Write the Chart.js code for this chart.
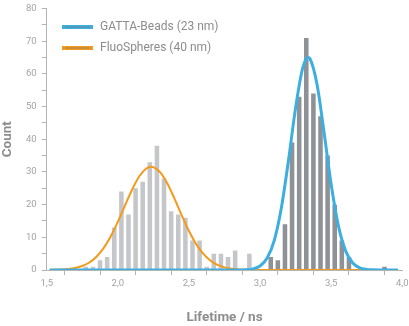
<!DOCTYPE html>
<html>
<head>
<meta charset="utf-8">
<script src="https://cdn.jsdelivr.net/npm/chart.js@4/dist/chart.umd.min.js"></script>
<style>
  html, body { margin: 0; padding: 0; background: #ffffff; }
  #wrap { width: 409px; height: 326px; }
</style>
</head>
<body>
<div id="wrap"><canvas id="c" width="409" height="326"></canvas></div>
<script>
// Histogram bins (bin centres, ns) and counts
const fluoBins   = [1.775, 1.825, 1.875, 1.925, 1.975, 2.025, 2.075, 2.125, 2.175, 2.225, 2.275, 2.325,
                    2.375, 2.425, 2.475, 2.525, 2.575, 2.625, 2.675, 2.725, 2.775, 2.825, 2.875, 2.925];
const fluoCounts = [1, 1, 3, 4, 13, 24, 17, 25, 27, 33, 38, 28,
                    18, 17, 16, 9, 9, 1, 5, 5, 4, 6, 0, 5];

const gattaBins   = [3.025, 3.075, 3.125, 3.175, 3.225, 3.275, 3.325, 3.375, 3.425,
                     3.475, 3.525, 3.575, 3.625, 3.675, 3.725, 3.775, 3.825, 3.875];
const gattaCounts = [0, 4, 3, 14, 39, 53, 71, 54, 47,
                     35, 20, 9, 4, 0, 0, 0, 0, 1];

// Fitted lifetime distributions
const fluoFitX = [1.52, 1.55, 1.60, 1.65, 1.70, 1.75, 1.80, 1.85, 1.90, 1.95, 2.00, 2.05, 2.10, 2.15,
                  2.20, 2.235, 2.25, 2.30, 2.35, 2.40, 2.45, 2.50, 2.55, 2.60, 2.65, 2.70, 2.75, 2.80,
                  2.85, 2.90, 2.95, 3.00, 3.10, 3.30, 3.50, 3.72];
const fluoFitY = [0.03, 0.05, 0.12, 0.28, 0.60, 1.22, 2.30, 4.06, 6.68, 10.26, 14.70, 19.67, 24.55, 28.59,
                  31.07, 31.60, 31.50, 29.80, 26.32, 21.68, 16.65, 11.94, 8.00, 4.99, 2.91, 1.58, 0.80, 0.38,
                  0.17, 0.07, 0.03, 0.01, 0, 0, 0, 0];

const gattaFitX = [1.52, 2.00, 2.50, 2.80, 2.85, 2.90, 2.95, 3.00, 3.05, 3.10, 3.15, 3.20, 3.25, 3.30,
                   3.338, 3.35, 3.40, 3.45, 3.50, 3.55, 3.60, 3.65, 3.70, 3.75, 3.80, 3.85, 3.90, 3.97];
const gattaFitY = [0, 0, 0, 0, 0.02, 0.08, 0.35, 1.23, 3.65, 9.09, 19.06, 33.56, 49.67, 61.82,
                   65.0, 64.68, 56.88, 42.06, 26.13, 13.64, 6.00, 2.21, 0.69, 0.18, 0.04, 0.01, 0, 0];

// Axis ticks
const xTickLabels = [1.5, 2.0, 2.5, 3.0, 3.5, 4.0];
const yTickLabels = [0, 10, 20, 30, 40, 50, 60, 70, 80];

const pairs = (xs, ys) => xs.map((x, i) => ({ x: x, y: ys[i] }));

const AXIS = '#b4b4b4';
const TICK_TEXT = '#a3a3a3';
const TITLE_TEXT = '#8d8d8d';
const BLUE = '#3daee0';
const ORANGE = '#f39a1c';

// Legend drawn inside the plot area, upper left
const innerLegend = {
  id: 'innerLegend',
  afterDraw(chart) {
    const ctx = chart.ctx;
    const items = chart.data.datasets.filter(d => d.type === 'line');
    const x0 = 62, x1 = 93, textX = 100;
    let y = 27;
    ctx.save();
    items.forEach(ds => {
      ctx.lineCap = 'butt';
      ctx.strokeStyle = ds.borderColor;
      ctx.lineWidth = 4;
      ctx.beginPath(); ctx.moveTo(x0, y); ctx.lineTo(x1, y); ctx.stroke();
      ctx.strokeStyle = 'rgba(120,120,120,0.45)';
      ctx.lineWidth = 1.5;
      ctx.beginPath(); ctx.moveTo(x0 + 3, y); ctx.lineTo(x1 - 3, y); ctx.stroke();
      ctx.fillStyle = '#8c8c8c';
      ctx.font = '12px Roboto';
      ctx.textBaseline = 'middle';
      ctx.textAlign = 'left';
      ctx.fillText(ds.label, textX, y);
      y += 21;
    });
    ctx.restore();
  }
};

new Chart(document.getElementById('c'), {
  data: {
    datasets: [
      {
        type: 'line', label: 'GATTA-Beads (23 nm)', data: pairs(gattaFitX, gattaFitY),
        borderColor: BLUE, borderWidth: 3, pointRadius: 0, cubicInterpolationMode: 'monotone',
        fill: false, order: 0
      },
      {
        type: 'line', label: 'FluoSpheres (40 nm)', data: pairs(fluoFitX, fluoFitY),
        borderColor: ORANGE, borderWidth: 2, pointRadius: 0, cubicInterpolationMode: 'monotone',
        fill: false, order: 1
      },
      {
        type: 'bar', label: 'FluoSpheres counts', data: pairs(fluoBins, fluoCounts),
        backgroundColor: '#c5c6c9', borderWidth: 0, grouped: false,
        categoryPercentage: 1, barPercentage: 0.64, order: 2
      },
      {
        type: 'bar', label: 'GATTA-Beads counts', data: pairs(gattaBins, gattaCounts),
        backgroundColor: '#8e9196', borderWidth: 0, grouped: false,
        categoryPercentage: 1, barPercentage: 0.64, order: 3
      }
    ]
  },
  options: {
    responsive: false,
    animation: false,
    layout: { padding: { left: 0, right: 6.7, top: 8.5, bottom: 0 } },
    plugins: { legend: { display: false }, tooltip: { enabled: false } },
    scales: {
      x: {
        type: 'linear', min: 1.5, max: 4.0, offset: false,
        border: { display: true, color: AXIS, width: 1 },
        grid: { drawOnChartArea: false, drawTicks: true, tickLength: 5, color: AXIS },
        ticks: {
          stepSize: 0.25, padding: 3, color: TICK_TEXT, maxRotation: 0, autoSkip: false,
          font: { family: 'Roboto', size: 9.5 },
          callback: v => xTickLabels.some(t => Math.abs(t - v) < 1e-6) ? v.toFixed(1).replace('.', ',') : ''
        },
        title: {
          display: true, text: 'Lifetime / ns', color: TITLE_TEXT,
          font: { family: 'Roboto', size: 13.5, weight: 'bold' }, padding: { top: 0, bottom: 0 }
        },
        afterFit(s) { s.height = 56; s.paddingLeft = 0; s.paddingRight = 0; }
      },
      y: {
        type: 'linear', min: 0, max: 80,
        border: { display: true, color: AXIS, width: 1 },
        grid: { drawOnChartArea: false, drawTicks: true, tickLength: 5, color: AXIS },
        ticks: {
          stepSize: 5, padding: 5, color: TICK_TEXT, autoSkip: false,
          font: { family: 'Roboto', size: 9.5 },
          callback: v => yTickLabels.includes(v) ? String(v) : ''
        },
        title: {
          display: true, text: 'Count', color: TITLE_TEXT,
          font: { family: 'Roboto', size: 13.5, weight: 'bold' }, padding: { top: 0, bottom: 0 }
        },
        afterFit(s) { s.width = 46.7; s.paddingTop = 0; s.paddingBottom = 0; }
      }
    }
  },
  plugins: [innerLegend]
});
</script>
</body>
</html>
